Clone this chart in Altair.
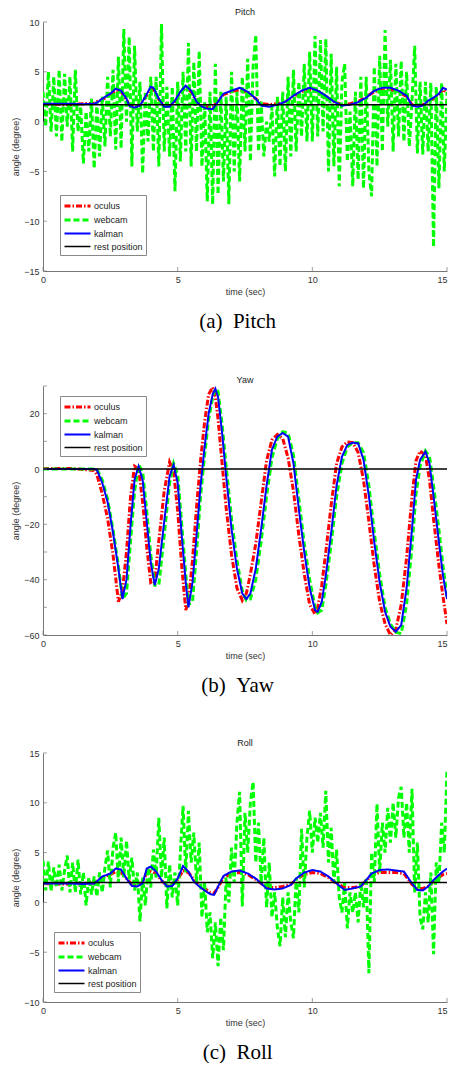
import altair as alt
import pandas as pd

SERIES = ["oculus", "webcam", "kalman", "rest position"]
COLORS = ["#ff0000", "#00ff00", "#0000ff", "#000000"]
DASHES = [[6, 2, 1.5, 2], [6, 3], [1, 0], [1, 0]]
WIDTHS = [3, 3, 2, 1.5]

# ---------------- Pitch ----------------
pitch_webcam = [
    3.0, -0.5, 5.0, -1.0, 4.5, -1.5, 5.2, -2.0, 4.8, -0.5,
    4.5, -3.0, 5.2, -1.0, 1.5, -4.2, 1.0, -3.0, 2.3, -4.7,
    2.0, -3.5, 2.5, -2.5, 4.5, -1.5, 5.2, -2.8, 6.5, -2.7,
    9.3, 0.0, 8.5, -4.5, 7.6, -1.0, 4.0, -5.2, 3.0, -2.0,
    4.5, -3.0, 4.5, -4.5, 9.8, -3.0, 3.5, -3.5, 3.5, -7.0,
    4.0, -4.0, 5.0, -3.0, 7.9, -4.5, 6.0, -3.0, 7.1, -4.5,
    2.0, -8.0, 3.0, -8.3, 5.8, -7.3, 3.0, -6.0, 2.5, -8.3,
    5.0, -5.0, 3.0, -6.0, 4.5, -3.0, 6.3, -4.0, 5.5, 8.7,
    -3.0, 2.0, -3.5, 0.0, -2.0, 1.5, -5.5, 2.5, -4.5, 3.0,
    -5.0, 4.5, -3.5, 5.2, -3.0, 4.0, -1.5, 5.8, -2.0, 7.0,
    -2.0, 8.6, -1.5, 8.2, -1.0, 8.3, -5.0, 6.8, -4.5, 5.5,
    -6.5, 4.0, 5.8, -4.0, 1.0, -6.5, 3.0, -5.8, 4.5, -6.7,
    4.5, -5.0, -7.5, 5.5, -4.5, 6.6, -3.0, 9.2, -0.5, 6.2,
    -3.0, 5.8, -1.5, 6.1, -2.0, 5.0, -2.5, 2.0, 7.6, -3.2,
    4.0, -3.3, 4.0, -3.0, 3.9, -12.6, 3.5, -6.7, 3.9, -5.0,
    3.0,
]
pitch_smooth_t = [
    0, 0.5, 1.0, 1.5, 1.9, 2.0, 2.2, 2.5, 2.7, 2.9, 3.1, 3.2, 3.4, 3.6, 3.8,
    4.0, 4.1, 4.3, 4.5, 4.7, 4.9, 5.1, 5.3, 5.5, 5.7, 5.9, 6.1, 6.3, 6.5, 6.7,
    7.0, 7.3, 7.6, 7.9, 8.1, 8.4, 8.7, 9.0, 9.3, 9.6, 9.9, 10.2, 10.5, 10.8,
    11.1, 11.4, 11.7, 12.0, 12.3, 12.6, 12.9, 13.2, 13.5, 13.7, 13.9, 14.1,
    14.3, 14.5, 14.7, 14.85, 15.0,
]
pitch_kalman = [
    1.8, 1.8, 1.8, 1.75, 1.8, 1.9, 2.3, 2.8, 3.3, 3.1, 2.3, 1.6, 1.4, 1.6, 2.5,
    3.5, 3.4, 2.3, 1.5, 1.5, 2.1, 3.0, 3.6, 3.1, 2.0, 1.5, 1.3, 1.25, 2.0, 2.8,
    3.1, 3.4, 3.0, 2.3, 1.6, 1.5, 1.7, 2.0, 2.6, 3.1, 3.4, 3.1, 2.6, 2.0,
    1.6, 1.7, 1.95, 2.4, 3.1, 3.4, 3.4, 3.1, 2.6, 1.6, 1.5, 1.6,
    2.1, 2.4, 2.8, 3.4, 3.2,
]
pitch_oculus = [
    1.75, 1.75, 1.7, 1.8, 1.85, 2.0, 2.2, 2.7, 3.1, 3.0, 2.2, 1.7, 1.5, 1.7, 2.4,
    3.3, 3.2, 2.2, 1.6, 1.6, 2.0, 2.9, 3.4, 3.0, 2.0, 1.6, 1.5, 1.5, 2.1, 2.7,
    3.0, 3.2, 2.9, 2.3, 1.8, 1.7, 1.8, 2.0, 2.5, 3.0, 3.2, 3.0, 2.5, 2.0,
    1.7, 1.8, 2.0, 2.5, 3.0, 3.2, 3.2, 3.0, 2.5, 1.7, 1.6, 1.7,
    2.0, 2.3, 2.7, 3.2, 2.9,
]
pitch_rest = 1.7

# ---------------- Yaw ----------------
yaw_t = [
    0, 1.0, 1.9, 2.0, 2.2, 2.4, 2.6, 2.8, 2.95, 3.1, 3.25, 3.4, 3.55, 3.7, 3.85,
    4.0, 4.15, 4.3, 4.5, 4.7, 4.85, 5.0, 5.15, 5.3, 5.4, 5.55, 5.7, 5.85, 6.0,
    6.15, 6.3, 6.4, 6.5, 6.65, 6.8, 7.0, 7.2, 7.4, 7.55, 7.7, 7.9, 8.1, 8.3,
    8.5, 8.7, 8.9, 9.1, 9.3, 9.5, 9.7, 9.9, 10.1, 10.2, 10.35, 10.5, 10.7,
    10.9, 11.1, 11.3, 11.5, 11.7, 11.9, 12.1, 12.3, 12.5, 12.7, 12.9, 13.1,
    13.3, 13.5, 13.7, 13.85, 14.0, 14.2, 14.35, 14.5, 14.7, 14.85, 15.0,
]
yaw_kalman = [
    0, 0, 0, -0.3, -5, -12, -23, -36, -47, -40, -20.5, -3.8, 1, -4, -19,
    -33.7, -42, -36, -19, -2.6, 1.5, -5, -24, -41, -50, -41, -24, -6, 8,
    20, 27, 29, 26, 13, -2.6, -21.7, -36, -45, -47, -45, -36, -21.7, -6,
    7, 11.7, 13, 11.7, 2, -14.6, -30, -43, -51, -51.6, -48, -38.5, -23,
    -6, 4.5, 8.7, 9.5, 9.3, 3.3, -9.8, -26.5, -41, -51.6, -57, -58.8,
    -56.4, -43, -21.7, -3.8, 3.3, 6.3, 2, -9.8, -26.5, -38.5, -47,
]
yaw_oculus = [
    0.2, 0.2, -0.5, -2, -9, -18, -31, -48, -44, -30, -10, 1, 0, -12, -28,
    -41, -40, -26, -8, 2.5, -1, -15, -35, -51, -48, -33, -14, 3, 17,
    27, 29.5, 26, 18, 2, -14, -31, -43, -47.5, -45, -38, -27, -12, 3,
    10.5, 12.5, 11, 4, -8, -24, -38, -49, -52.5, -50, -42, -30, -13,
    2, 8, 9.8, 9.5, 6, -4, -19, -35, -48, -56, -60, -58,
    -49, -32, -10, 3, 6.5, 5, -4, -18, -35, -46, -56,
]
yaw_webcam = [
    0, 0, 0, 0, -4, -11, -22, -35, -47, -45, -26, -8, 1.5, -1, -15,
    -31, -42, -42, -24, -5, 2, -2, -20, -38, -49, -48, -30, -10, 5,
    18, 26, 29, 28, 16, 1, -18, -33, -44, -47.5, -47, -40, -26, -10,
    4, 11, 13.5, 13, 5, -11, -27, -40, -50, -52, -51, -42, -27,
    -10, 2, 8, 9.5, 9.5, 6, -6, -23, -38, -50, -56, -59,
    -59.5, -49, -28, -9, 1, 6.5, 4.5, -6, -22, -35, -46,
]
yaw_rest = 0.0

# ---------------- Roll ----------------
roll_webcam = [
    4.2, 1.2, 4.1, 1.1, 3.5, 1.5, 3.8, 1.2, 3.2, 4.7,
    1.0, 4.0, 1.0, 4.3, 0.8, 3.0, -0.3, 2.5, 0.8, 2.6,
    0.6, 3.0, 1.0, 3.5, 5.2, 1.5, 5.5, 7.0, 2.0, 6.5,
    2.5, 6.2, 2.3, 4.5, 1.2, 3.0, -1.9, 2.5, -0.3, 3.5,
    1.5, 5.3, 2.5, 8.5, 2.5, 6.5, -0.6, 3.8, 0.5, 3.0,
    -0.3, 5.0, 9.7, 3.0, 9.2, 4.0, 7.0, 2.0, 6.0, -1.5,
    2.0, -3.0, -1.0, -5.6, -2.0, -6.4, -1.5, -4.8, 2.5, 0.0,
    5.5, 2.0, 8.0, 11.1, -0.4, 9.0, 5.0, 10.0, 12.1, 4.0,
    8.0, 2.0, 6.5, -0.5, 4.0, -1.5, 1.0, -2.5, -4.4, 0.5,
    -3.5, 1.0, -2.0, -3.6, 2.5, -1.0, 7.4, 1.5, 6.5, 9.2,
    5.0, 8.5, 6.0, 9.0, 5.5, 11.2, 4.0, 7.5, 2.0, 5.3,
    0.5, -1.0, 2.0, -2.6, 1.0, -1.0, 1.0, -2.0, 2.0, -0.5,
    2.5, -7.1, 5.0, 2.0, 9.9, 3.0, 8.0, 5.0, 9.5, 6.0,
    10.0, 6.5, 10.5, 11.6, 6.5, 10.0, 5.0, 11.4, 1.0, 6.0,
    -1.5, -2.7, 1.0, -2.0, 3.0, -5.2, 4.0, 2.0, 8.0, 5.0,
    13.4,
]
roll_smooth_t = [
    0, 0.5, 1.0, 1.5, 1.9, 2.0, 2.2, 2.5, 2.7, 2.9, 3.1, 3.3, 3.5, 3.7, 3.85,
    4.0, 4.2, 4.4, 4.6, 4.8, 5.0, 5.2, 5.4, 5.6, 5.8, 6.0, 6.2, 6.35, 6.5, 6.7,
    7.0, 7.3, 7.6, 7.9, 8.1, 8.3, 8.6, 8.9, 9.2, 9.4, 9.7, 10.0, 10.3, 10.6,
    10.9, 11.2, 11.5, 11.8, 12.0, 12.2, 12.5, 12.8, 13.1, 13.4, 13.7, 13.9,
    14.1, 14.3, 14.5, 14.7, 14.85, 15.0,
]
roll_kalman = [
    1.9, 1.9, 1.9, 1.85, 1.9, 2.1, 2.6, 2.9, 3.4, 3.3, 2.4, 1.65, 1.6, 1.9, 3.4,
    3.6, 3.1, 2.25, 1.6, 1.65, 2.4, 3.65, 3.1, 2.1, 1.6, 1.2, 0.85, 0.75, 1.6, 2.65,
    3.1, 3.2, 2.9, 2.4, 1.9, 1.4, 1.3, 1.4, 1.75, 2.4, 3.0, 3.25, 3.1, 2.6,
    1.9, 1.25, 1.4, 1.6, 2.25, 2.9, 3.25, 3.3, 3.2, 3.1, 1.9, 1.25,
    1.2, 1.6, 2.25, 2.75, 3.1, 3.4,
]
roll_oculus = [
    1.9, 1.85, 1.85, 1.9, 1.95, 2.1, 2.5, 2.8, 3.1, 3.0, 2.4, 1.8, 1.7, 2.0, 3.0,
    3.1, 2.9, 2.2, 1.7, 1.8, 2.3, 3.2, 3.0, 2.3, 1.8, 1.4, 1.0, 0.9, 1.5, 2.5,
    2.9, 3.0, 2.8, 2.3, 1.9, 1.5, 1.5, 1.6, 1.8, 2.3, 2.8, 3.0, 2.9, 2.5,
    1.9, 1.5, 1.5, 1.6, 2.2, 2.7, 3.0, 3.0, 3.0, 2.9, 1.8, 1.4,
    1.4, 1.6, 2.1, 2.5, 2.8, 2.9,
]
roll_rest = 2.0

X_TICKS = [0, 5, 10, 15]
WEBCAM_STEP = 0.1
NBSP = "\u00a0"


def build_frame(smooth_t, oculus, kalman, webcam_t, webcam, rest):
    rows = []
    for t, v in zip(smooth_t, oculus):
        rows.append({"t": t, "v": v, "series": "oculus"})
    for t, v in zip(webcam_t, webcam):
        rows.append({"t": t, "v": v, "series": "webcam"})
    for t, v in zip(smooth_t, kalman):
        rows.append({"t": t, "v": v, "series": "kalman"})
    for t, v in zip([0, 0.005, 15], [0.0, rest, rest]):
        rows.append({"t": t, "v": v, "series": "rest position"})
    return pd.DataFrame(rows)


def grid(values):
    return [round(i * WEBCAM_STEP, 2) for i in range(len(values))]


W, H = 404, 249


def panel(title, caption, df, ydomain, yticks, lx, ly):
    leg = alt.Legend(
        title=None, orient="none", legendX=lx, legendY=ly, direction="vertical",
        symbolType="M-1,0L3,0", symbolSize=169, labelFontSize=9,
        labelFont="Liberation Sans", labelColor="#222", strokeColor="#888",
        fillColor="white", padding=3, rowPadding=0, labelOffset=15,
    )
    x = alt.X("t:Q", scale=alt.Scale(domain=[0, 15], nice=False, zero=False),
              axis=alt.Axis(values=X_TICKS, title="time (sec)",
                            labelAlign=alt.ExprRef(expr="datum.value == 15 ? 'right' : 'center'")))
    y = alt.Y("v:Q", scale=alt.Scale(domain=ydomain, nice=False, zero=False),
              axis=alt.Axis(values=yticks, title="angle (degree)"))
    color = alt.Color("series:N", scale=alt.Scale(domain=SERIES, range=COLORS), legend=leg)
    dash = alt.StrokeDash("series:N", scale=alt.Scale(domain=SERIES, range=DASHES), legend=leg)
    width = alt.StrokeWidth("series:N", scale=alt.Scale(type="ordinal", domain=SERIES, range=WIDTHS), legend=leg)
    layers = []
    for s in SERIES:
        layers.append(
            alt.Chart(df).transform_filter(alt.datum.series == s)
            .mark_line(clip=True, strokeJoin="miter", strokeCap="butt")
            .encode(x=x, y=y, color=color, strokeDash=dash, strokeWidth=width)
        )
    ytick_df = pd.DataFrame({"v": yticks})
    xtick_df = pd.DataFrame({"t": X_TICKS})
    yt = alt.Chart(ytick_df).mark_tick(color="#777", size=4, thickness=1, orient="horizontal").encode(
        y=alt.Y("v:Q"), x=alt.value(2))
    xt = alt.Chart(xtick_df).mark_tick(color="#777", size=4, thickness=1, orient="vertical").encode(
        x=alt.X("t:Q"), y=alt.value(H - 2))
    lay = alt.layer(*layers, yt, xt).properties(
        width=W, height=H,
        title=alt.TitleParams(title, fontSize=9, font="Liberation Sans", fontWeight="normal",
                              color="#222", offset=1),
    )
    return alt.vconcat(lay).properties(
        title=alt.TitleParams(caption, orient="bottom", anchor="middle", fontSize=21,
                              font="Liberation Serif", fontWeight="normal", color="black",
                              offset=15, dx=8)
    )


pitch_df = build_frame(pitch_smooth_t, pitch_oculus, pitch_kalman, grid(pitch_webcam), pitch_webcam, pitch_rest)
yaw_df = build_frame(yaw_t, yaw_oculus, yaw_kalman, yaw_t, yaw_webcam, yaw_rest)
roll_df = build_frame(roll_smooth_t, roll_oculus, roll_kalman, grid(roll_webcam), roll_webcam, roll_rest)

p1 = panel("Pitch", "(a)" + NBSP + NBSP + "Pitch", pitch_df, [-15, 10], [-15, -10, -5, 0, 5, 10], 17, 173)
p2 = panel("Yaw", "(b)" + NBSP + NBSP + "Yaw", yaw_df, [-60, 30], list(range(-60, 31, 10)), 17, 10)
p3 = panel("Roll", "(c)" + NBSP + NBSP + "Roll", roll_df, [-10, 15], [-10, -5, 0, 5, 10, 15], 11, 179)

chart = alt.vconcat(p1, p2, p3, spacing=43).resolve_scale(
    color="independent", strokeDash="independent", strokeWidth="independent",
    x="independent", y="independent",
).resolve_legend(
    color="independent", strokeDash="independent", strokeWidth="independent"
).properties(
    padding={"left": 3, "top": 0, "right": 0, "bottom": 0}
).configure_view(stroke=None).configure_axis(
    grid=False, domainColor="#777", tickSize=0, labelFont="Liberation Sans",
    labelFontSize=9, labelColor="#333", titleFont="Liberation Sans",
    titleFontSize=9, titleFontWeight="normal", titleColor="#333", labelPadding=4,
    titlePadding=3,
).configure_legend(cornerRadius=0)

chart.save("out.html", embed_options={"renderer": "svg", "actions": False})
